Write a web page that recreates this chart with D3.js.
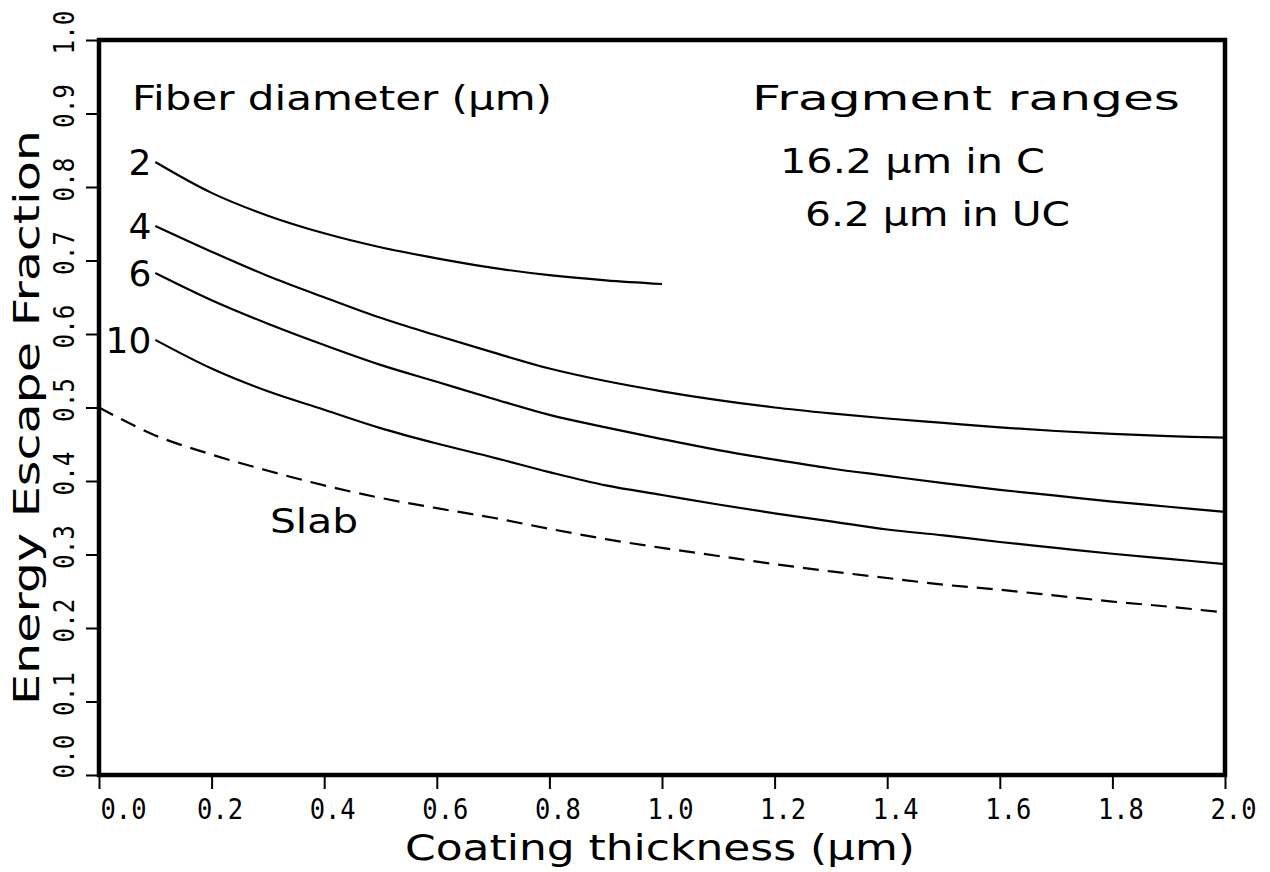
<!DOCTYPE html>
<html>
<head>
<meta charset="utf-8">
<script src="https://cdn.jsdelivr.net/npm/d3@7"></script>
<style>
  body { margin: 0; background: #fff; }
  svg text { font-family: "DejaVu Sans", sans-serif; fill: #000; }
</style>
</head>
<body>
<svg id="chart" width="1270" height="872"></svg>
<script>
// 曲线数据
const xFiber = [0.1, 0.2, 0.3, 0.4, 0.5, 0.6, 0.7, 0.8, 0.9, 1.0, 1.1, 1.2, 1.3, 1.4, 1.5, 1.6, 1.7, 1.8, 1.9, 2.0];
const fiber2 = [0.834, 0.792, 0.761, 0.737, 0.718, 0.703, 0.690, 0.680, 0.673, 0.668];
const fiber4 = [0.747, 0.712, 0.679, 0.650, 0.622, 0.598, 0.575, 0.553, 0.536, 0.522, 0.510, 0.500, 0.492, 0.485, 0.479, 0.473, 0.468, 0.464, 0.461, 0.459];
const fiber6 = [0.683, 0.646, 0.614, 0.585, 0.558, 0.535, 0.512, 0.490, 0.473, 0.457, 0.442, 0.429, 0.417, 0.407, 0.397, 0.388, 0.380, 0.372, 0.365, 0.358];
const fiber10 = [0.592, 0.553, 0.522, 0.497, 0.472, 0.451, 0.432, 0.412, 0.394, 0.381, 0.368, 0.356, 0.345, 0.334, 0.326, 0.317, 0.309, 0.301, 0.294, 0.287];
const xSlab = [0.0, 0.1, 0.2, 0.3, 0.4, 0.5, 0.6, 0.7, 0.8, 0.9, 1.0, 1.1, 1.2, 1.3, 1.4, 1.5, 1.6, 1.7, 1.8, 1.9, 2.0];
const slab = [0.500, 0.462, 0.436, 0.414, 0.394, 0.377, 0.363, 0.350, 0.335, 0.321, 0.309, 0.298, 0.287, 0.277, 0.268, 0.259, 0.252, 0.244, 0.236, 0.229, 0.221];
const fiberLabels = ["2", "4", "6", "10"];
const xTicks = [0.0, 0.2, 0.4, 0.6, 0.8, 1.0, 1.2, 1.4, 1.6, 1.8, 2.0];
const yTicks = [0.0, 0.1, 0.2, 0.3, 0.4, 0.5, 0.6, 0.7, 0.8, 0.9, 1.0];

const mLeft = 99, mRight = 1225, mTop = 40, mBottom = 775;
const svg = d3.select("#chart");

const x = d3.scaleLinear().domain([0, 2]).range([mLeft, mRight]);
const y = d3.scaleLinear().domain([0, 1]).range([mBottom, mTop]);

// 坐标轴
const xAxis = svg.append("g")
    .attr("transform", `translate(0,${mBottom})`)
    .call(d3.axisBottom(x).tickValues(xTicks).tickSize(14).tickSizeOuter(0).tickFormat(d3.format(".1f")));
xAxis.select(".domain").remove();
xAxis.selectAll(".tick line").attr("stroke-width", 2);
xAxis.selectAll(".tick text")
    .attr("y", 44)
    .attr("dy", 0)
    .attr("x", d => d === 0 ? 24 : 8)
    .attr("textLength", 46).attr("lengthAdjust", "spacingAndGlyphs")
    .style("font-size", "29px")
    .style("font-family", "'DejaVu Sans Mono', monospace");

const yAxis = svg.append("g")
    .attr("transform", `translate(${mLeft},0)`)
    .call(d3.axisLeft(y).tickValues(yTicks).tickSize(13).tickSizeOuter(0).tickFormat(d3.format(".1f")));
yAxis.select(".domain").remove();
yAxis.selectAll(".tick line").attr("stroke-width", 2);
yAxis.selectAll(".tick text")
    .attr("x", 0).attr("dy", 0)
    .attr("text-anchor", "middle")
    .attr("textLength", 44).attr("lengthAdjust", "spacingAndGlyphs")
    .attr("transform", d => `translate(-25,${d === 0 ? -19 : -8}) rotate(-90)`)
    .style("font-size", "29px")
    .style("font-family", "'DejaVu Sans Mono', monospace");

// 边框
svg.append("rect")
    .attr("x", mLeft).attr("y", mTop)
    .attr("width", mRight - mLeft).attr("height", mBottom - mTop)
    .attr("fill", "none").attr("stroke", "#000").attr("stroke-width", 4.5);

// 曲线
const line = d3.line().x(d => x(d[0])).y(d => y(d[1])).curve(d3.curveCatmullRom.alpha(0.5));
const series = [fiber2, fiber4, fiber6, fiber10];
series.forEach((vals, i) => {
    svg.append("path")
        .datum(vals.map((v, j) => [xFiber[j], v]))
        .attr("d", line)
        .attr("fill", "none").attr("stroke", "#000").attr("stroke-width", 2.2);
    svg.append("text")
        .attr("x", x(xFiber[0]) - 4)
        .attr("y", y(vals[0]) + 13)
        .attr("text-anchor", "end")
        .style("font-size", "36px")
        .text(fiberLabels[i]);
});

svg.append("path")
    .datum(slab.map((v, j) => [xSlab[j], v]))
    .attr("d", line)
    .attr("fill", "none").attr("stroke", "#000").attr("stroke-width", 2.2)
    .attr("stroke-dasharray", "16,9");

// 文字
const note = (tx, ty, size, len, str) => svg.append("text")
    .attr("x", tx).attr("y", ty)
    .style("font-size", size + "px")
    .attr("textLength", len).attr("lengthAdjust", "spacingAndGlyphs")
    .text(str);
note(132, 110, 33, 420, "Fiber diameter (μm)");
note(752, 110, 34, 428, "Fragment ranges");
note(780, 173, 34, 265, "16.2 μm in C");
note(805, 226, 34, 265, "6.2 μm in UC");
note(270, 533, 34, 88, "Slab");

// 轴标题
svg.append("text").attr("x", 405).attr("y", 860)
    .attr("textLength", 510).attr("lengthAdjust", "spacingAndGlyphs")
    .style("font-size", "35px").text("Coating thickness (μm)");
svg.append("text").attr("transform", "translate(39,705) rotate(-90)")
    .attr("textLength", 575).attr("lengthAdjust", "spacingAndGlyphs")
    .style("font-size", "35px").text("Energy Escape Fraction");
</script>
</body>
</html>
